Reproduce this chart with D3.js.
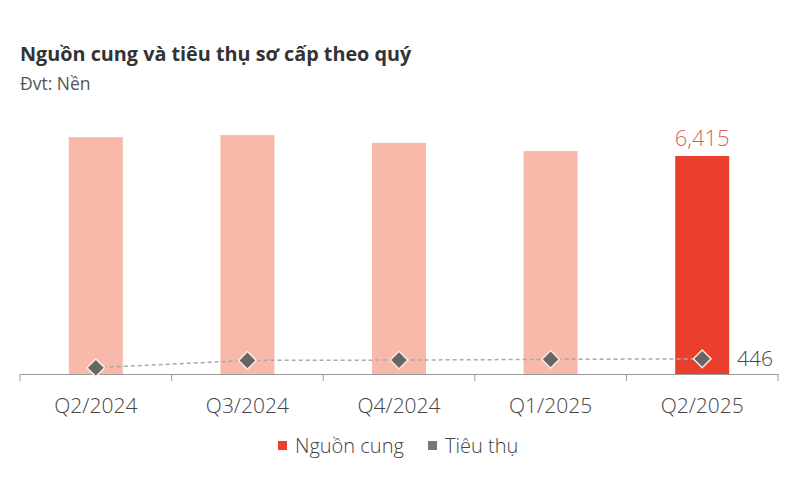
<!DOCTYPE html>
<html>
<head>
<meta charset="utf-8">
<script src="https://cdn.jsdelivr.net/npm/d3@7/dist/d3.min.js"></script>
<style>
    body { margin: 0; background: #fff; }
    svg text { font-family: "Open Sans", sans-serif; }
</style>
</head>
<body>
<svg id="chart" width="800" height="500"></svg>
<script>
// data
var quarters = ["Q2/2024", "Q3/2024", "Q4/2024", "Q1/2025", "Q2/2025"];
var supply = [6970, 7030, 6800, 6560, 6415];
var sales = [185, 400, 410, 430, 446];
var legendLabels = ["Nguồn cung", "Tiêu thụ"];

var svg = d3.select("#chart");

var x = d3.scaleBand()
    .domain(quarters)
    .range([20, 778]);

var y = d3.scaleLinear()
    .domain([0, 6415])
    .range([374, 156]);

var barW = 54;

// title
svg.append("text")
    .attr("x", 20).attr("y", 61)
    .attr("font-size", 19.8).attr("font-weight", 700)
    .attr("fill", "#333")
    .text("Nguồn cung và tiêu thụ sơ cấp theo quý");

svg.append("text")
    .attr("x", 20).attr("y", 90)
    .attr("font-size", 17.5).attr("fill", "#555")
    .text("Đvt: Nền");

// bars
svg.selectAll(".bar")
    .data(supply)
    .enter().append("rect")
    .classed("bar", true)
    .attr("x", function (d, i) { return x(quarters[i]) + x.bandwidth() / 2 - barW / 2; })
    .attr("y", function (d) { return y(d); })
    .attr("width", barW)
    .attr("height", function (d) { return y(0) - y(d); })
    .attr("fill", function (d, i) { return i === quarters.length - 1 ? "#ea3f2c" : "#f8b8aa"; });

// axis
var axis = svg.append("g")
    .attr("transform", "translate(0," + y(0) + ")")
    .call(d3.axisBottom(x).tickSize(0).tickSizeOuter(0));
axis.select(".domain").attr("stroke", "#999");
axis.selectAll("text")
    .attr("font-size", 21).attr("fill", "#444")
    .attr("font-weight", 300)
    .attr("dy", 0).attr("y", 39)
    .style("font-family", "'Open Sans', sans-serif");

// tick separators between bands
var edges = quarters.map(function (q) { return x(q); }).concat([x.range()[1]]);
svg.selectAll(".sep")
    .data(edges)
    .enter().append("line")
    .classed("sep", true)
    .attr("x1", function (d) { return d; })
    .attr("x2", function (d) { return d; })
    .attr("y1", y(0))
    .attr("y2", y(0) + 7)
    .attr("stroke", "#999");

// sales line
var line = d3.line()
    .x(function (d, i) { return x(quarters[i]) + x.bandwidth() / 2; })
    .y(function (d) { return y(d); });

svg.append("path")
    .datum(sales)
    .attr("d", line)
    .attr("fill", "none")
    .attr("stroke", "#aaa")
    .attr("stroke-width", 1.5)
    .attr("stroke-dasharray", "4,3");

svg.selectAll(".dia")
    .data(sales)
    .enter().append("path")
    .classed("dia", true)
    .attr("d", d3.symbol().type(d3.symbolDiamond2).size(200))
    .attr("transform", function (d, i) {
        return "translate(" + (x(quarters[i]) + x.bandwidth() / 2) + "," + y(d) + ")";
    })
    .attr("fill", "#666")
    .attr("stroke", "#fbe9e4")
    .attr("stroke-width", 1.5);

// labels on last point
var last = quarters.length - 1;
svg.append("text")
    .attr("x", x(quarters[last]) + x.bandwidth() / 2)
    .attr("y", y(supply[last]) - 10)
    .attr("text-anchor", "middle")
    .attr("font-size", 22).attr("font-weight", 300).attr("fill", "#d4645a")
    .text(d3.format(",")(supply[last]));

svg.append("text")
    .attr("x", 737)
    .attr("y", y(sales[last]) + 7)
    .attr("font-size", 21).attr("font-weight", 300).attr("fill", "#444")
    .text(sales[last]);

// legend
var legend = svg.append("g");
var legendX = [278, 428];
var legendColors = ["#ea3f2c", "#777"];
legendLabels.forEach(function (l, i) {
    legend.append("rect")
        .attr("x", legendX[i]).attr("y", 441)
        .attr("width", 9).attr("height", 9)
        .attr("fill", legendColors[i]);
    legend.append("text")
        .attr("x", legendX[i] + 17).attr("y", 453)
        .attr("font-size", 20).attr("font-weight", 300).attr("fill", "#444")
        .text(l);
});
</script>
</body>
</html>
